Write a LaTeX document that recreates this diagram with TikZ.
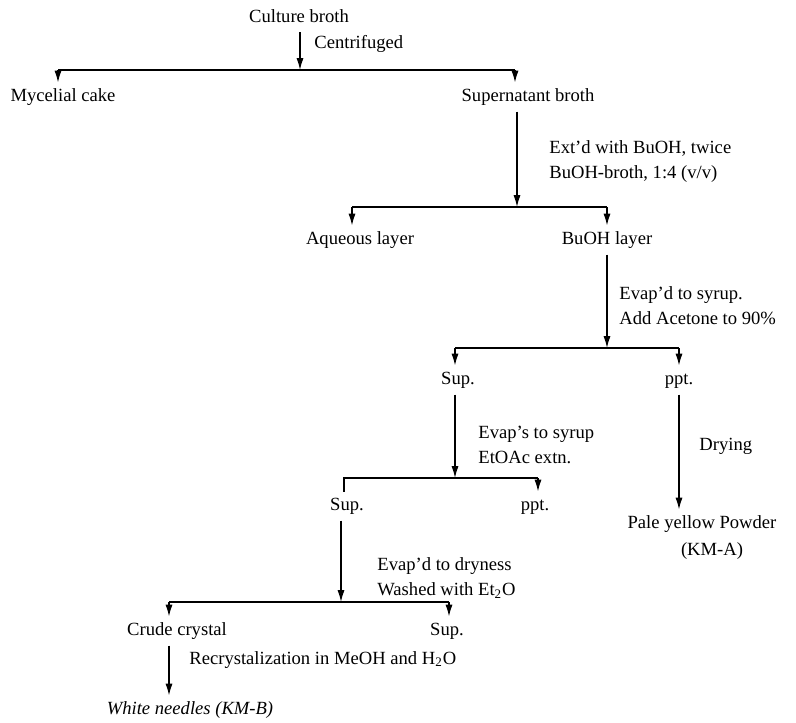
\documentclass[tikz,border=0pt]{standalone}
\usepackage{fontspec}
\setmainfont{Liberation Serif}
\usetikzlibrary{arrows.meta, positioning, calc}
\tikzset{
  >=Latex,
  flowarrow/.style={-{Latex[length=2.1mm, width=1.25mm]}, line width=0.65pt, black},
  flowline/.style={line width=0.65pt, black}
}

\begin{document}
\begin{tikzpicture}[x=0.5pt, y=-0.5pt,
    item/.style={inner sep=1pt, outer sep=2pt, text height=6.6pt, text depth=1.9pt, font=\fontsize{9.3}{11}\selectfont},
    note/.style={inner sep=1pt, anchor=west, align=left, font=\fontsize{9.3}{12.5}\selectfont}
]
    \useasboundingbox (0,0) rectangle (796,722);

    % Culture broth, centrifuged, split at y = 70
    \node[item] (broth) at (299,18) {Culture broth};
    \node[note] (lbl1) at (312,44) {Centrifuged};
    \coordinate (c1) at (300,70);
    \coordinate (c1l) at (58,70);
    \coordinate (c1r) at (515,70);
    \node[item] (cake) at (63,97) {Mycelial cake};
    \node[item] (super) at (528,97) {Supernatant broth};

    \draw[flowarrow] (broth.south -| c1) -- (c1);
    \draw[flowline] (c1l) -- (c1r);
    \draw[flowarrow] (c1l) -- (c1l |- cake.north);
    \draw[flowarrow] (c1r) -- (c1r |- super.north);

    % BuOH extraction, split at y = 207
    \node[note] (lbl2) at (547,162) {Ext'd with BuOH, twice\\BuOH-broth, 1:4 (v/v)};
    \coordinate (c2) at (517,207);
    \coordinate (c2l) at (352,207);
    \coordinate (c2r) at (607,207);
    \node[item] (aq) at (360,240) {Aqueous layer};
    \node[item] (bu) at (607,240) {BuOH layer};

    \draw[flowarrow] (super.south -| c2) -- (c2);
    \draw[flowline] (c2l) -- (c2r);
    \draw[flowarrow] (c2l) -- (c2l |- aq.north);
    \draw[flowarrow] (c2r) -- (c2r |- bu.north);

    % Acetone precipitation, split at y = 348
    \node[note] (lbl3) at (617,306) {Evap'd to syrup.\\Add Acetone to 90\%};
    \coordinate (c3) at (607,348);
    \coordinate (c3l) at (455,348);
    \coordinate (c3r) at (679,348);
    \node[item] (sup1) at (458,380) {Sup.};
    \node[item] (ppt1) at (679,380) {ppt.};

    \draw[flowarrow] (bu.south -| c3) -- (c3);
    \draw[flowline] (c3l) -- (c3r);
    \draw[flowarrow] (c3l) -- (c3l |- sup1.north);
    \draw[flowarrow] (c3r) -- (c3r |- ppt1.north);

    % Drying of the precipitate
    \node[note] (lbl4) at (697,446) {Drying};
    \node[item] (powder) at (702,524) {Pale yellow Powder};
    \node[item] (kma) at (712,551) {(KM-A)};
    \draw[flowarrow] (ppt1) -- (ppt1 |- powder.north);

    % EtOAc extraction, split at y = 478
    \node[note] (lbl5) at (476,445) {Evap's to syrup\\EtOAc extn.};
    \coordinate (c4) at (455,478);
    \coordinate (c4l) at (344,478);
    \coordinate (c4r) at (538,478);
    \node[item] (sup2) at (347,506) {Sup.};
    \node[item] (ppt2) at (535,506) {ppt.};

    \draw[flowarrow] (sup1.south -| c4) -- (c4);
    \draw[flowline] (c4l |- sup2.north) -- (c4l) -- (c4r);
    \draw[flowarrow] (c4r) -- (c4r |- ppt2.north);

    % Dried and washed, split at y = 602
    \node[note] (lbl6) at (375,578) {Evap'd to dryness\\Washed with Et\textsubscript{2}O};
    \coordinate (c5) at (341,602);
    \coordinate (c5l) at (169,602);
    \coordinate (c5r) at (449,602);
    \node[item] (crude) at (177,631) {Crude crystal};
    \node[item] (sup3) at (447,631) {Sup.};

    \draw[flowarrow] (sup2.south -| c5) -- (c5);
    \draw[flowline] (c5l) -- (c5r);
    \draw[flowarrow] (c5l) -- (c5l |- crude.north);
    \draw[flowarrow] (c5r) -- (c5r |- sup3.north);

    % Recrystalization
    \node[note] (lbl7) at (187,660) {Recrystalization in MeOH and H\textsubscript{2}O};
    \node[item] (needles) at (190,710) {\itshape White needles (KM-B)};
    \draw[flowarrow] (crude.south -| c5l) -- (c5l |- needles.north);
\end{tikzpicture}
\end{document}
